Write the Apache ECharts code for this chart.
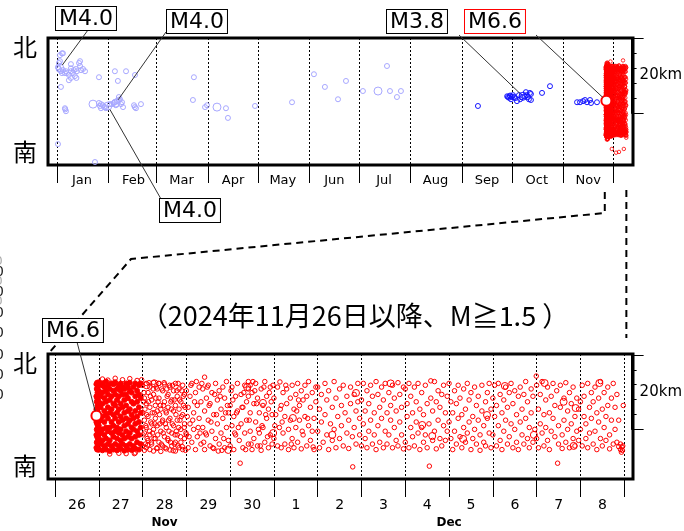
<!DOCTYPE html>
<html><head><meta charset="utf-8">
<script src="https://cdn.jsdelivr.net/npm/echarts@6/dist/echarts.min.js"></script>
<style>html,body{margin:0;padding:0;background:#fff}#c{width:684px;height:531px}</style>
</head><body><div id="c"></div>
<script>
// ===== DATA =====
const monthLabels = ['Jan','Feb','Mar','Apr','May','Jun','Jul','Aug','Sep','Oct','Nov',''];
const subtitle = '（2024年11月26日以降、M≧1.5 ）';
const scaleLabel = '20km';
// Top panel: [day of 2024 (0 = Jan 1), km from south edge]
const lightSmall = [[3.0,29.9],[3.6,29.9],[1.8,29.4],[1.2,27.3],[1.8,27.8],[0.6,26.2],[1.2,25.7],[2.4,25.1],[3.0,24.6],[3.6,25.4],
 [4.8,24.6],[5.4,25.1],[6.0,24.6],[7.2,24.1],[8.4,25.9],[8.4,25.1],[9.6,24.6],[10.2,25.4],[11.4,25.7],[12.0,25.1],[13.3,27.3],
 [13.9,26.5],[14.5,25.4],[15.7,25.7],[16.9,25.1],[10.8,23.8],[8.4,23.3],[7.2,22.7],[11.7,23.3],[2.4,20.9],[8.4,27.0],[13.9,27.8],
 [25.3,23.5],[34.9,25.1],[41.6,25.1],[36.7,22.5],[47.0,24.1],[4.8,15.2],[5.4,14.4],[5.0,14.9],[0.6,5.6],[22.9,0.8],
 [25.3,16.6],[25.9,15.8],[26.5,16.3],[26.5,15.2],[27.7,16.0],[28.3,15.5],[28.9,15.5],[29.5,15.2],[31.9,16.3],[33.1,16.3],
 [34.3,16.6],[34.9,16.8],[36.1,17.1],[37.3,17.4],[38.0,17.6],[37.3,18.2],[35.5,16.0],[39.2,16.8],[39.8,15.5],[38.6,16.3],
 [46.4,16.0],[47.6,15.2],[50.6,16.3],[46.9,15.5],
 [82.5,23.5],[81.9,17.4],[89.2,15.5],[90.4,16.0],[101.8,15.2],[103.0,12.6],[119.3,15.8],[141.6,16.8],[154.8,24.3],
 [161.4,20.9],[169.3,17.6],[174.1,22.5],[184.3,19.8],[198.8,26.5],[200.6,19.8],[204.8,18.2],[207.2,19.8]];
const lightBig = [[1.8,25.9],[30.7,15.8],[35.5,16.6],[21.7,16.3],[96.4,15.5],[193.4,19.8]];
const blueSmall = [[253.6,15.8],[271.7,18.2],[272.9,18.4],[274.1,18.2],[274.7,18.7],[275.3,18.2],[277.1,17.1],[278.3,18.7],
 [280.1,18.2],[282.5,19.5],[281.9,18.4],[283.1,18.7],[283.7,18.2],[284.9,19.3],[285.5,19.0],[284.3,17.6],[285.5,17.4],
 [276.0,17.9],[279.0,17.6],[273.5,17.6],[272.3,18.0],[273.0,18.6],[271.2,18.4],[292.2,19.3],[297.0,21.1],
 [313.3,16.8],[315.1,16.8],[316.9,17.1],[318.1,17.4],[319.3,16.8],[321.1,17.4],[321.7,16.6],[325.3,16.8]];
const blueBig = [[280.7,18.4]];
// Aftershocks: per day (index 0 = Nov 26), flat pairs [hour, km, hour, km, ...]
const nov26 = [22.7,8.5, 22.7,12, 22.7,15.5, 22.7,19, 22.7,22.5, 22.7,25.8, 22.9,10, 22.9,13.5, 22.9,17.5, 22.9,21, 22.9,24.5,
 23.1,8, 23.1,11.5, 23.1,15, 23.1,18.5, 23.1,22, 23.1,26.2, 23.3,9.5, 23.3,13, 23.3,16.5, 23.3,20, 23.3,23.5,
 23.5,8.2, 23.5,11, 23.5,14.5, 23.5,18, 23.5,21.5, 23.5,25.5, 23.7,9.8, 23.7,13.5, 23.7,17, 23.7,20.5, 23.7,24,
 23.9,8, 23.9,12, 23.9,15.5, 23.9,19.5, 23.9,23, 23.9,26];
const nov27 = [0,8, 0,11, 0,14.5, 0,17.5, 0,21, 0,24, 0,26.3, 1,9.5, 1,12.5, 1,16, 1,19.5, 1,22.5, 1,25.5,
 2,7.8, 2,10.5, 2,13.5, 2,17, 2,20.5, 2,23.5, 2,26, 3,9, 3,12, 3,15.5, 3,18.5, 3,22, 3,25,
 4,8, 4,11, 4,14, 4,17.5, 4,21, 4,24, 4,26.5, 5,9.5, 5,13, 5,16.5, 5,19.5, 5,23, 5,25.5,
 6,7.6, 6,10.5, 6,14, 6,18, 6,21.5, 6,24.5, 7,9, 7,12.5, 7,15.5, 7,19, 7,22.5, 7,26,
 8,8, 8,11.5, 8,14.5, 8,17.5, 8,20.5, 8,24, 8,25.8, 9,9.5, 9,13, 9,16.5, 9,20, 9,23, 9,26.3,
 10,7.8, 10,11, 10,14, 10,18, 10,21.5, 10,24.5, 11,9, 11,12.5, 11,15.5, 11,19, 11,22.5, 11,25.5,
 12,8.2, 12,10.5, 12,13.5, 12,17, 12,20.5, 12,24, 12,26, 13,9.5, 13,12, 13,16, 13,19.5, 13,23, 13,25,
 14,7.7, 14,11, 14,14.5, 14,18, 14,21.5, 14,24.5, 15,9, 15,13, 15,16.5, 15,20, 15,23, 15,26,
 16,8, 16,11.5, 16,15, 16,18.5, 16,22, 16,25, 17,9.5, 17,12.5, 17,16, 17,19, 17,24, 17,26.2,
 18,7.9, 18,11, 18,14, 18,17.5, 18,21, 18,23.5, 19,9, 19,13.5, 19,16.5, 19,20.5, 19,25,
 20,8.3, 20,11.5, 20,15, 20,18.5, 20,22.5, 20,26, 21,10, 21,13, 21,17, 21,21, 21,24,
 22,8, 22,12, 22,15.5, 22,19.5, 22,23, 22,25.5, 23,9.5, 23,14, 23,18, 23,22, 23,26];
const nov27Edge = [2,27.2, 5,26.9, 9,27.4, 13,27, 17,27.3, 21,26.8, 11,7, 15,6.9, 20,7.1, 6,6.8, 23.5,27, 19.5,6.9];
const nov28 = [0,25.5, 0,18, 0,9, 1,22, 1,12.5, 1,7.8, 1,16, 2,26, 2,20.5, 2,14, 2,8.5, 3,23.5, 3,17, 3,10.5, 4,25, 4,19.5, 4,12, 4,8,
 5,21.5, 5,15, 5,9.5, 6,26.3, 6,23, 6,13.5, 6,7.6, 7,20, 7,16.5, 7,11, 8,24.5, 8,18.5, 8,8.5, 8,14.5, 9,22, 9,10, 9,26,
 10,19, 10,13, 10,7.5, 11,24, 11,16, 11,9, 12,21, 12,11.5, 12,25.8, 13,18, 13,8.2, 13,14, 14,23, 14,19.5, 14,10.5,
 15,25, 15,16.5, 15,7.9, 16,21.5, 16,12.5, 16,9, 17,24, 17,18.5, 17,14.5, 18,26, 18,20, 18,10, 18,7.6, 19,22.5, 19,16, 19,12,
 20,24.5, 20,19, 20,8.5, 21,21, 21,13.5, 21,10, 22,25.5, 22,17.5, 22,8, 23,23, 23,15, 23,11,
 0.5,21, 2.5,11, 4.5,15.5, 6.5,18, 8.5,21, 10.5,24.5, 12.5,15, 14.5,13, 16.5,25.5, 18.5,13, 20.5,16, 22.5,20,
 3.5,26.2, 7.5,25, 11.5,20, 15.5,21, 19.5,26, 23.5,7.8, 5.5,12.5, 9.5,15, 13.5,22.5, 17.5,9.5, 21.5,24, 1.5,9.5,
 0.3,12, 0.8,23.5, 1.3,19, 1.8,14.5, 2.3,17.5, 2.8,9.2, 3.3,21, 3.8,13, 4.3,22.5, 4.8,10, 5.3,18, 5.8,24.5, 6.3,11, 6.8,15,
 7.3,22, 7.8,8.3, 8.3,12, 8.8,26, 9.3,17.5, 9.8,20, 10.3,9.5, 10.8,15.5, 11.3,12.5, 11.8,26.2, 12.3,8.5, 12.8,18.5,
 13.3,24.5, 13.8,11, 14.3,16, 14.8,25.5, 15.3,10, 15.8,19, 16.3,15, 16.8,7.7, 17.3,21.5, 17.8,12, 18.3,17.5, 18.8,24,
 19.3,9, 19.8,14, 20.3,21.5, 20.8,11.5, 21.3,17, 21.8,8.8, 22.3,22.5, 22.8,14, 23.3,19.5, 23.8,12.5];
const nov29 = [0,24, 0,12, 1,19.5, 1,8.5, 2,22.5, 2,15, 3,26, 3,10, 4,18, 4,13.5, 5,23.5, 5,8, 6,20, 6,11.5, 7,25, 7,16.5,
 8,9.5, 8,21, 9,14, 9,24.5, 10,27.7, 10,18.5, 10,8, 11,22, 11,12, 12,25.5, 12,16, 13,9, 13,20.5, 14,13, 14,23.5,
 15,17.5, 15,8.3, 16,26, 16,11, 17,21.5, 17,15, 18,24, 18,9.5, 19,19, 19,12.5, 20,25, 20,16.5, 21,8.5, 21,22, 22,14, 22,26.5,
 23,18, 23,10.5, 0.5,17, 2.5,25.5, 4.5,21, 6.5,14, 8.5,26, 10.5,12.5, 12.5,20, 14.5,8.5, 16.5,17.5, 18.5,22.5, 20.5,11,
 22.5,20, 3.5,16, 7.5,12.5, 11.5,25, 15.5,23, 19.5,7.8, 13.5,15.5, 5.5,26.5, 9.5,10, 17.5,7.6, 21.5,18, 1.5,11.5];
const nov30 = [0,20, 0,9, 1,25, 1,14.5, 2,17, 2,8, 3,22.5, 3,12, 4,26, 4,18.5, 5,10.5, 5.5,4.3, 6,23, 6,15, 7,19.5, 7,8.5,
 8,25.5, 8,12.5, 9,21, 9,16, 10,26.5, 10,24.5, 10,22.5, 10,9.5, 11,25.5, 11,18, 11,13, 12,23.5, 12,8, 13,20.5, 13,11,
 14,26, 14,15.5, 15,22, 15,9, 16,18, 16,12.5, 17,24.5, 17,7.8, 18,20, 18,14, 19,26.5, 19,10, 20,22.5, 20,16.5, 21,8.5, 21,19,
 22,25, 22,12, 23,17.5, 23,9.5, 0.5,24, 2.5,12.5, 4.5,14, 6.5,19.5, 8.5,8, 10.5,16, 12.5,26.5, 14.5,20.5, 16.5,9, 18.5,25,
 20.5,11.5, 22.5,21, 3.5,18, 7.5,23.5, 11.5,9.5, 15.5,13.5, 19.5,17.5, 23.5,25.5, 1.5,21.5, 13.5,24, 17.5,14.5, 21.5,23.5];
const dec01 = [0,22, 0,11, 1,17.5, 2,25, 2,9, 3.3,26.4, 3,14, 4,20, 4,8.5, 5,23.5, 5,12.5, 6,17, 6,9.5, 7,24.5, 7,20.5,
 8,13.5, 8,8, 9,22, 9,16, 10,25.5, 10,11, 11,19, 11,8.5, 12,23, 12,14, 13,26, 13,10, 14,20, 14,16, 15,24, 15,8.2,
 16,12, 16,21.5, 17,25.5, 17,17, 18,9, 18,22.5, 19,14.5, 19,26.5, 20,19.5, 20,10.5, 21,23.5, 21,13, 22,16.5, 22,8,
 23,21, 23,25, 0.5,14.5, 3.5,19, 6.5,25.5, 9.5,9.5, 12.5,18.5, 15.5,13, 18.5,16.5, 21.5,8.7, 4.5,15.5, 13.5,21.5];
const dec02 = [0,25, 0,13, 1,19, 1,8.5, 2,23, 2,15.5, 3,10, 4,26, 4,17.5, 5,21.5, 5,12, 6,8, 6,24, 7,15, 8,19.5, 8,10.5,
 9,26.5, 9,13.5, 10,22, 10,8.5, 11,17, 12,24.5, 12,11, 13,20, 13,14.5, 14,9, 14,25.5, 15,18, 16,12.5, 16,22.5, 17,8.3,
 17,16, 18,25, 18,20.5, 19.2,3.3, 19,11.5, 20,23, 20,14, 21,18.5, 21,9.5, 22,26, 22,21, 23,12, 23,16.5];
const dec03 = [0,21.5, 0,9, 1,26, 1,15, 2,18.5, 2,11, 3,24, 3,8.5, 4,13, 4,20.5, 5,25.5, 5,16, 6,9.5, 6,22.5, 7,12, 7,18,
 8,26.5, 8,8, 9,14.5, 9,23, 10,19.5, 10,10, 11,25, 11,16.5, 12,8.5, 12,21.5, 13,13, 13,26, 14,18, 14,9.5, 15,23.5, 15,12,
 16,16, 16,20, 17,25.5, 17,8.5, 18,14, 18,22, 19,10.5, 19,18.5, 20,26.2, 20,9, 21,15.5, 21,23, 22,12, 22,19.5, 23,8.2, 23,25];
const dec04 = [0,24.5, 0,10, 1,17, 1,20.5, 2,8.5, 2,26, 3,14, 3,22.5, 4,11.5, 4,18, 5,25, 5,9, 6,15.5, 6,21, 7,12.5, 7,26,
 8,8, 8,19, 9,23.5, 9,14, 10,10, 10,17.5, 11,25.5, 11,12, 12,20.5, 12,8.5, 13.2,3.5, 13,15, 14,26.7, 14,22, 15,10.5, 15,18.5,
 16,26.5, 16,13, 17,8.2, 17,21, 18,16, 18,24, 19,11, 19,19.5, 20,9, 20,23, 21,14.5, 21,25.5, 22,18, 22,10.5, 23,22.5, 23,13];
const dec05 = [0,26, 0,15.5, 1,11, 1,21, 2,8, 2,18, 3,24, 3,13, 4,9.5, 4,20.5, 5,16.5, 5,25.5, 6,11.5, 6,22, 7,8.5, 7,17.5,
 8,14, 8,24.5, 9,10, 9,19, 10,26, 10,12.5, 11,15.5, 11,21.5, 12,8, 12,23.5, 13,17, 13,11, 14,25, 14,13.5, 15,9.5, 15,20,
 16,16, 16,22.5, 17,12, 17,7.8, 18,18.5, 18,25.5, 19,10, 19,14.5, 20,21, 20,9, 21,23.5, 21,16.5, 22,12.5, 22,26, 23,19, 23,8.5];
const dec06 = [0,22, 0,12, 1,17, 1,25.5, 2,9, 2,20, 3,14.5, 3,26, 4,10.5, 4,23, 5,18, 5,8, 6,21.5, 6,13, 7,25, 7,16,
 8,9.5, 8,19.5, 9,23.5, 9,11.5, 10,15, 10,26, 11,8.5, 11,20.5, 12,13.5, 12,24, 13,17.5, 13,10, 14,22.5, 14,8, 15,15.5, 15,25,
 16,12, 16,19, 17,23, 17,9.5, 18,16.5, 18,26.5, 19,11, 19,21, 20,14, 20,8.5, 21,24.5, 21,18, 22,10, 22,22.5, 23,13.5, 23.8,28];
const dec07 = [0,25.5, 0,11, 1,19, 1,8.5, 2,23, 2,15, 3,12.5, 3,26.5, 4,17.5, 4,9, 5,21.5, 5,14, 6,25, 6,10.5, 7,18, 7,8,
 8,22.5, 8,13, 9,16.5, 9,26, 10,11.5, 10,20, 11.5,4.3, 11,24, 12,14.5, 12,9.5, 13,19.5, 13,25.5, 14,12, 14,8.3, 15,22, 15,16,
 16,26.2, 16,10, 17,18.5, 17,13.5, 18,23.5, 18,8.5, 19,15, 19,20.5, 20,11, 20,25, 21,17, 21,9, 22,22, 22,13, 23,19, 23,10.5];
const dec08 = [0,21, 0,13.5, 1,25.5, 1,9, 2,17, 2,22.5, 3,11, 3,15, 4,26, 4,8.5, 5,19.5, 5,12.5, 6,23.5, 6,16.5, 7,9.5, 7,21,
 8,25, 8,13, 9,18, 9,8, 10,22, 10,15.5, 11,11, 11,26.5, 12,19, 12,9, 13,23.5, 13,14, 14,17, 14,10.5, 15,25, 15,20,
 16,12, 16,8.2, 17,22, 17,16, 18,26, 18,9.5, 19,13.5, 19,19.5, 20,23, 20,10, 21,16, 21,8.8, 22,8, 22,9.5, 22.5,7.3,
 22.8,8.7, 23,7.8, 23.2,9, 23.5,20];
// larger aftershocks: [day index, hour, km]
const redBig = [[2,2.2,25.5],[2,6.6,26],[3,23,7.9],[4,9.3,25],[4,18,20.7],[4,23.6,12.5],[5,10.4,16.6],[6,8,12],[6,21,23.4],
 [7,16,26],[8,9.3,14.7],[8,14.8,11.7],[9,7.7,10.9],[9,20.8,17.4],[10,6.6,25.3],[10,22.5,12],[11,4.4,26.1],[11,14.8,21],
 [11,20.3,9],[11,21.4,19.3],[12,10.4,26.1]];
const mainShock = [0, 22.7, 17.2]; // M6.6: [day index, hour, km]
// annotated events on the top panel: [day of 2024, km]
const evJan = [1.8, 25.9], evFebA = [35.5, 16.6], evFebB = [30.7, 15.8], evOct = [280.7, 18.4];

// ===== BUILD =====
const DAY = 864e5, HOUR = 36e5;
const T2024 = Date.UTC(2024,0,1), TNOV26 = Date.UTC(2024,10,26);
const topT = p => [T2024 + p[0]*DAY, p[1]];
function dayPairs(arr, d){ const out=[]; for(let i=0;i<arr.length;i+=2) out.push([TNOV26 + d*DAY + arr[i]*HOUR, arr[i+1]]); return out; }
const denseData = dayPairs(nov26,0).concat(dayPairs(nov27,1));
const hollowDays = [[1,nov27Edge],[2,nov28],[3,nov29],[4,nov30],[5,dec01],[6,dec02],[7,dec03],[8,dec04],[9,dec05],[10,dec06],[11,dec07],[12,dec08]];
let hollowData = [];
hollowDays.forEach(h => { hollowData = hollowData.concat(dayPairs(h[1], h[0])); });
const bigData = redBig.map(r => [TNOV26 + r[0]*DAY + r[1]*HOUR, r[2]]);
const msData = [[TNOV26 + mainShock[0]*DAY + mainShock[1]*HOUR, mainShock[2]]];

const RED = '#ff0000', LIGHT = '#a8a8ff', BLUE = '#1414ff';
const FONT = '"DejaVu Sans", sans-serif';
const CJK = '"Noto Sans CJK JP", sans-serif';

function ring(color, size, data, xi, yi, z, fill, bw){
  return {type:'scatter', xAxisIndex:xi, yAxisIndex:yi, data, symbol:'circle', symbolSize:size, silent:true, z:z||2,
    animation:false, itemStyle:{color: fill || 'rgba(0,0,0,0)', borderColor:color, borderWidth:bw||1, opacity:1}};
}
function nsAxis(grid){
  return {type:'value', gridIndex:grid, min:0, max:34, interval:34, position:'left', axisLine:{show:false}, axisTick:{show:false}, splitLine:{show:false},
    axisLabel:{margin:11, color:'#000', formatter: v => v===34 ? '{n|北}' : (v===0 ? '{s|南}' : ''),
      rich:{n:{fontSize:24, fontFamily:CJK, color:'#000', padding:[18,0,0,0]}, s:{fontSize:24, fontFamily:CJK, color:'#000', padding:[0,0,26,0]}}}};
}
function scaleAxes(grid){
  return [
    {type:'value', gridIndex:grid, min:0, max:20, interval:4, position:'right', axisLine:{show:true, onZero:false, lineStyle:{color:'#000', width:1}},
      axisTick:{show:true, length:5, lineStyle:{color:'#000'}}, axisLabel:{show:false}, splitLine:{show:false},
      name: scaleLabel, nameLocation:'middle', nameRotate:0, nameGap:8, nameTextStyle:{fontSize:15, fontFamily:FONT, color:'#000', align:'left', verticalAlign:'middle', padding:[8,0,0,0]}},
    {type:'value', gridIndex:grid, min:0, max:20, interval:20, position:'right', axisLine:{show:false, onZero:false},
      axisTick:{show:true, length:12, lineStyle:{color:'#000'}}, axisLabel:{show:false}, splitLine:{show:false}}
  ];
}

const chart = echarts.init(document.getElementById('c'), null, {renderer:'canvas'});
const option = {
  animation:false, useUTC:true, backgroundColor:'#fff',
  grid:[
    {left:48, top:38, width:585, height:127, show:true, borderColor:'#000', borderWidth:3, backgroundColor:'rgba(0,0,0,0)'},
    {left:48, top:354, width:585, height:125, show:true, borderColor:'#000', borderWidth:3, backgroundColor:'rgba(0,0,0,0)'},
    {left:600, top:38, width:38, height:75},
    {left:599, top:355, width:38, height:74}
  ],
  xAxis:[
    {type:'time', gridIndex:0, min:Date.UTC(2023,11,26,14,24), max:Date.UTC(2024,11,13), minInterval:28*DAY, maxInterval:31*DAY,
      axisLine:{show:false}, axisTick:{show:true, length:18, lineStyle:{color:'#000', width:1}},
      splitLine:{show:true, lineStyle:{color:'#000', type:[2,2], width:1}},
      axisLabel:{margin:9, fontSize:13, fontFamily:FONT, color:'#000', padding:[0,0,0,50], hideOverlap:false,
        formatter: v => monthLabels[new Date(v).getUTCMonth()] || ''}},
    {type:'time', gridIndex:1, min:Date.UTC(2024,10,25,20,10), max:Date.UTC(2024,11,9,4,50), minInterval:DAY, maxInterval:DAY,
      axisLine:{show:false}, axisTick:{show:true, length:18, lineStyle:{color:'#000', width:1}},
      splitLine:{show:true, lineStyle:{color:'#000', type:[2,2], width:1}},
      axisLabel:{margin:19, fontSize:14, fontFamily:FONT, color:'#000', padding:[0,0,0,44], hideOverlap:false,
        formatter: v => { const d=new Date(v); return (d.getUTCMonth()===11 && d.getUTCDate()===9) ? '' : String(d.getUTCDate()); }}},
    {type:'value', gridIndex:2, show:false, min:0, max:1},
    {type:'value', gridIndex:3, show:false, min:0, max:1}
  ],
  yAxis: [nsAxis(0), nsAxis(1)].concat(scaleAxes(2), scaleAxes(3)),
  series:[
    ring(LIGHT, 5, lightSmall.map(topT), 0, 0),
    ring(LIGHT, 8, lightBig.map(topT), 0, 0),
    ring(BLUE, 5, blueSmall.map(topT), 0, 0),
    ring(BLUE, 8, blueBig.map(topT), 0, 0),
    ring(RED, 4.5, denseData, 0, 0, 3, RED),
    ring(RED, 3.5, hollowData, 0, 0, 3, null, 0.8),
    ring(RED, 5, bigData, 0, 0, 3),
    ring(RED, 10, msData, 0, 0, 4, '#fff', 2),
    ring(RED, 5, denseData, 1, 1, 3, RED),
    ring(RED, 4.5, hollowData, 1, 1, 3),
    ring(RED, 7, bigData, 1, 1, 3),
    ring(RED, 10, msData, 1, 1, 4, '#fff', 2)
  ]
};
chart.setOption(option);

// ===== ANNOTATIONS (anchored on the axes) =====
const px = (xi, yi, v) => chart.convertToPixel({xAxisIndex:xi, yAxisIndex:yi}, v);
function leader(from, to, r){
  const dx=to[0]-from[0], dy=to[1]-from[1], L=Math.hypot(dx,dy);
  return {type:'line', z:100, silent:true, shape:{x1:from[0], y1:from[1], x2:to[0]-dx/L*r, y2:to[1]-dy/L*r}, style:{stroke:'#333', lineWidth:1}};
}
function box(text, x, y, border){
  return {type:'text', z:101, silent:true, x, y, style:{text, font:'22px '+FONT, fill:'#000', backgroundColor:'#fff',
    borderColor:border||'#000', borderWidth:1, padding:[1,3,0,3], align:'left', verticalAlign:'top'}};
}
const pJan = px(0,0,topT(evJan)), pFebA = px(0,0,topT(evFebA)), pFebB = px(0,0,topT(evFebB)), pOct = px(0,0,topT(evOct));
const pMsTop = px(0,0,msData[0]), pMsBot = px(1,1,msData[0]);
const xNov26Top = px(0,0,[TNOV26,0])[0], xDec9Top = px(0,0,[TNOV26+13*DAY,0])[0];
const xNov26Bot = px(1,1,[TNOV26,0])[0], xDec1Bot = px(1,1,[Date.UTC(2024,11,1),0])[0], xDec9Bot = px(1,1,[TNOV26+13*DAY,0])[0];
const graphics = [
  leader([88,30], pJan, 4), box('M4.0', 56, 7),
  leader([166,32], pFebA, 4), box('M4.0', 167, 10),
  leader([161,199], pFebB, 4), box('M4.0', 160, 199),
  leader([459,35], pOct, 4), box('M3.8', 387, 10),
  leader([536,35], pMsTop, 5), box('M6.6', 465, 10, RED),
  leader([77,342], pMsBot, 5), box('M6.6', 43, 319),
  {type:'polyline', z:99, silent:true, shape:{points:[[xNov26Top,192],[xNov26Top,213],[131,259],[48,354]]},
    style:{stroke:'#000', lineWidth:2, lineDash:[7,5], fill:null}},
  {type:'polyline', z:99, silent:true, shape:{points:[[xDec9Top,190],[xDec9Top,338]]},
    style:{stroke:'#000', lineWidth:2, lineDash:[7,5], fill:null}},
  {type:'text', z:100, silent:true, x:355, y:316, style:{text:subtitle, font:'27px '+CJK, fill:'#000', align:'center', verticalAlign:'middle'}},
  {type:'text', z:100, silent:true, x:(xNov26Bot+xDec1Bot)/2, y:523, style:{text:'Nov', font:'bold 12px '+FONT, fill:'#000', align:'center', verticalAlign:'middle'}},
  {type:'text', z:100, silent:true, x:(xDec1Bot+xDec9Bot)/2, y:523, style:{text:'Dec', font:'bold 12px '+FONT, fill:'#000', align:'center', verticalAlign:'middle'}}
];
// clipped glyphs of a neighbouring figure at the left edge
[272,292,313,333,355,375,395].forEach(y => graphics.push({type:'text', silent:true, x:-5, y, style:{text:'0', font:'14px '+FONT, fill:'#222', align:'left', verticalAlign:'middle'}}));
[262,282,302].forEach(y => graphics.push({type:'text', silent:true, x:-5, y, style:{text:'0', font:'12px '+FONT, fill:'#aaa', align:'left', verticalAlign:'middle'}}));
chart.setOption({graphic: graphics});
</script></body></html>
